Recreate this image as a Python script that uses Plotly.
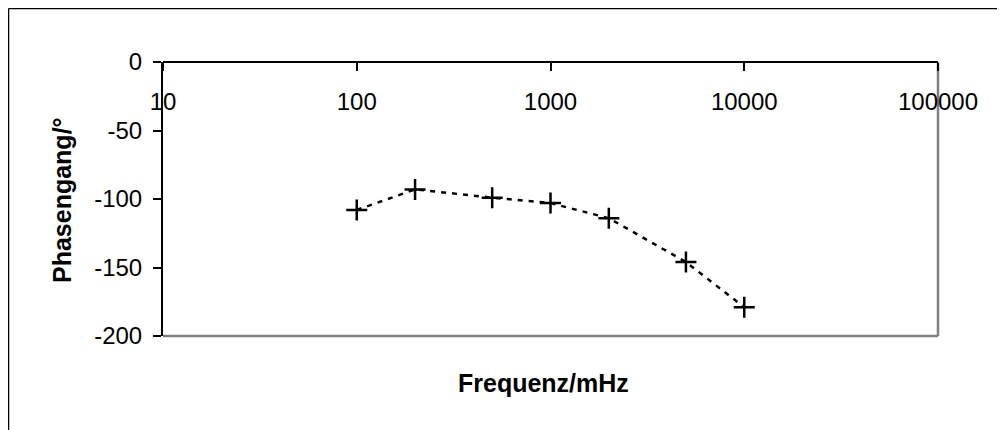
import plotly.graph_objects as go

# Data
freq_mhz = [100, 200, 500, 1000, 2000, 5000, 10000]
phase_deg = [-108, -93, -99, -103, -114, -146, -179]

x_tick_vals = [10, 100, 1000, 10000, 100000]
x_tick_text = ["10", "100", "1000", "10000", "100000"]
y_tick_vals = [0, -50, -100, -150, -200]
y_tick_text = ["0", "-50", "-100", "-150", "-200"]

# page is offset by the 8px body margin; figure coordinates below
W, H = 997, 422
L, R, T, B = 155, 930, 54, 328
pw, ph = R - L, B - T

def px(xp):
    return (xp - L) / pw

def py(yp):
    return (B - yp) / ph

FONT = "Liberation Sans, Arial, sans-serif"

fig = go.Figure()
fig.add_trace(go.Scatter(
    x=freq_mhz, y=phase_deg, mode="lines+markers",
    line=dict(color="black", width=2.5, dash="5px,6px"),
    marker=dict(symbol="cross-thin", size=15, line=dict(color="black", width=2.5)),
    showlegend=False, cliponaxis=False,
))

fig.update_layout(
    width=W, height=H,
    margin=dict(l=L, r=W - R, t=T, b=H - B),
    paper_bgcolor="white", plot_bgcolor="white",
    font=dict(family=FONT, color="black", size=24),
    xaxis=dict(
        type="log", range=[1, 5], side="bottom", anchor="free", position=1,
        tickvals=x_tick_vals, ticktext=x_tick_text,
        ticks="outside", ticklen=8, tickwidth=1.5, tickcolor="black",
        ticklabelstandoff=10,
        showline=True, linecolor="black", linewidth=2,
        showgrid=False, zeroline=False,
        tickfont=dict(size=24, family=FONT, color="black"),
    ),
    yaxis=dict(
        range=[-200, 0],
        tickvals=y_tick_vals, ticktext=y_tick_text,
        ticks="outside", ticklen=8, tickwidth=1.5, tickcolor="black",
        ticklabelstandoff=6,
        showline=True, linecolor="black", linewidth=2,
        showgrid=False, zeroline=False,
        tickfont=dict(size=24, family=FONT, color="black"),
    ),
    shapes=[
        # plot area border (right and bottom, gray)
        dict(type="line", xref="paper", yref="paper", x0=1, x1=1, y0=0, y1=1,
             line=dict(color="#808080", width=2.5), layer="below"),
        dict(type="line", xref="paper", yref="paper", x0=0, x1=1, y0=0, y1=0,
             line=dict(color="#808080", width=2.5), layer="below"),
        # outer chart frame (top and left)
        dict(type="line", xref="paper", yref="paper", x0=px(0.5), x1=px(W), y0=py(0.5), y1=py(0.5),
             line=dict(color="black", width=1.5)),
        dict(type="line", xref="paper", yref="paper", x0=px(0.5), x1=px(0.5), y0=py(0.5), y1=py(H),
             line=dict(color="black", width=1.5)),
    ],
    annotations=[
        dict(text="<b>Frequenz/mHz</b>", xref="paper", yref="paper",
             x=px(535), y=py(375), xanchor="center", yanchor="middle",
             showarrow=False, font=dict(size=25, family=FONT, color="black")),
        dict(text="<b>Phasengang/°</b>", xref="paper", yref="paper",
             x=px(54), y=py(192), xanchor="center", yanchor="middle", textangle=-90,
             showarrow=False, font=dict(size=25, family=FONT, color="black")),
    ],
)

fig.write_html("out.html")
